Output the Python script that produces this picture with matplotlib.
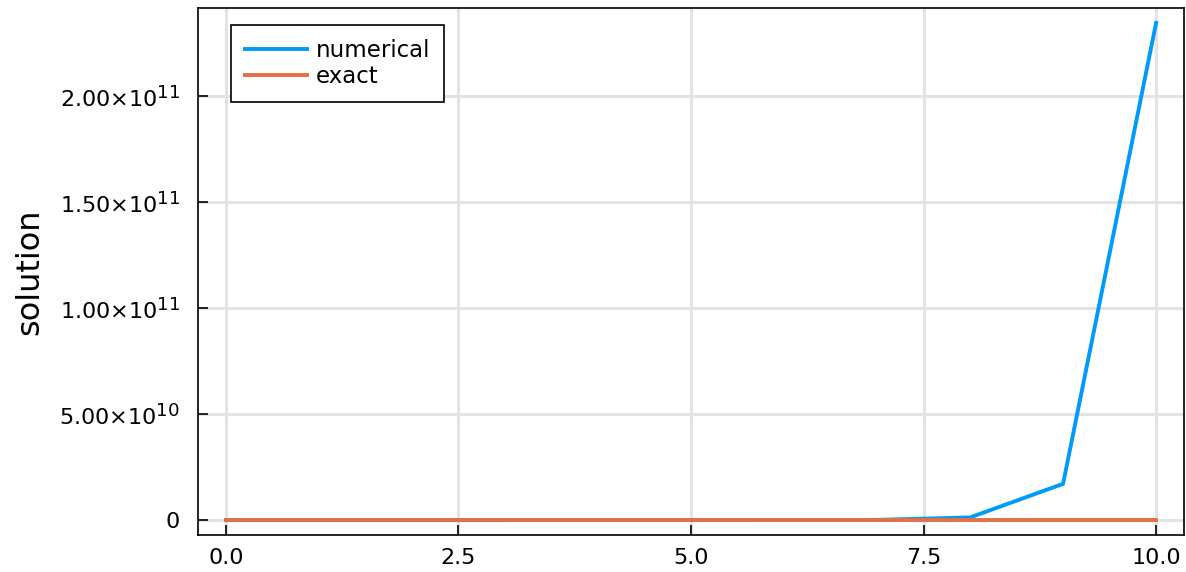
import numpy as np
import matplotlib
matplotlib.use("Agg")
import matplotlib.pyplot as plt
from matplotlib.ticker import FuncFormatter
import matplotlib._mathtext as mtext

# values
t = [0, 1, 2, 3, 4, 5, 6, 7, 8, 9, 10]
numerical = [1.0, 13.7, 188.0, 2570.0, 3.52e4, 4.83e5, 6.6e6, 9.06e7, 1.24e9, 1.71e10, 2.344e11]
exact = [1.0, 0.37, 0.135, 0.05, 0.018, 0.0067, 0.0025, 0.0009, 0.0003, 0.0001, 0.00005]
yticks = [0, 5e10, 1e11, 1.5e11, 2e11]
xticks = [0.0, 2.5, 5.0, 7.5, 10.0]

plt.rcParams['font.family'] = ['DejaVu Sans']
plt.rcParams['mathtext.fontset'] = 'dejavusans'
# larger exponents, like the reference
mtext.SHRINK_FACTOR = 0.82

fig = plt.figure(figsize=(11.86, 5.72), dpi=100)
ax = fig.add_axes([198 / 1186, 1 - 535 / 572, (1184 - 198) / 1186, (535 - 8) / 572])

ax.plot(t, numerical, color='#009AFA', lw=2.8, label='numerical', zorder=3)
ax.plot(t, exact, color='#E26F46', lw=2.8, label='exact', zorder=3)

ax.set_xlim(-0.3, 10.3)
ymax = max(numerical)
ax.set_ylim(-0.03 * ymax, 1.03 * ymax)

ax.set_xticks(xticks)
ax.set_yticks(yticks)
ax.xaxis.set_major_formatter(FuncFormatter(lambda v, p: '%.1f' % v))


def sci(v, p):
    if v == 0:
        return '0'
    e = int(np.floor(np.log10(abs(v))))
    m = v / 10 ** e
    return '%.2f×10$^{%d}$' % (m, e)


ax.yaxis.set_major_formatter(FuncFormatter(sci))
ax.tick_params(direction='in', length=7.5, width=1.2, labelsize=16, pad=9,
               top=False, right=False)
ax.tick_params(axis='y', pad=13)

ax.grid(True, color='#e3e3e3', lw=2.2, zorder=0)
ax.set_axisbelow(True)
for s in ax.spines.values():
    s.set_linewidth(1.2)

ax.set_ylabel('solution', fontsize=23, labelpad=10)

leg = ax.legend(loc='upper left', fontsize=16.5, fancybox=False, framealpha=1,
                edgecolor='black', handlelength=2.7, borderpad=0.6,
                labelspacing=0.15, handletextpad=0.4, borderaxespad=0,
                bbox_to_anchor=(33 / 986, 1 - 17 / 527))
leg.get_frame().set_linewidth(1.2)

fig.savefig('out.png', dpi=100)
